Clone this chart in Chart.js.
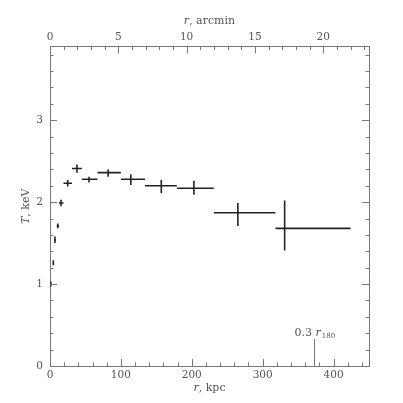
<!DOCTYPE html>
<html>
<head>
<meta charset="utf-8">
<script src="https://cdn.jsdelivr.net/npm/chart.js@4/dist/chart.umd.min.js"></script>
<style>
  body { margin: 0; background: #fff; }
  #wrap { width: 403px; height: 403px; }
</style>
</head>
<body>
<div id="wrap"><canvas id="myChart"></canvas></div>
<script>
// temperature profile, r in kpc, T in keV
const rMid = [1, 4.7, 7, 11, 15.5, 25, 38, 55, 82, 114, 157, 203, 265, 331];
const rLo  = [0, 4, 6, 9.5, 12.5, 19, 31, 45, 67, 100, 134, 179, 231, 318];
const rHi  = [2, 5.5, 8, 12.5, 19, 31, 45, 67, 100, 134, 179, 231, 318, 424];
const temp = [1.00, 1.26, 1.54, 1.71, 1.99, 2.23, 2.41, 2.28, 2.36, 2.28, 2.20, 2.17, 1.87, 1.68];
const tLo  = [0.97, 1.23, 1.50, 1.68, 1.95, 2.19, 2.36, 2.24, 2.31, 2.21, 2.11, 2.09, 1.71, 1.41];
const tHi  = [1.03, 1.29, 1.58, 1.74, 2.03, 2.27, 2.46, 2.31, 2.40, 2.34, 2.27, 2.26, 1.99, 2.02];

const xTicks = [0, 100, 200, 300, 400];
const topTicks = [0, 5, 10, 15, 20];
const yTicks = [0, 1, 2, 3];
const xMax = 450, topMax = 23.35, yMax = 3.9;
const r180mark = 372;   // 0.3 r180 in kpc

const axisColor = '#777';
const textColor = '#555';
const markColor = '#222';
const fontFam = '"DejaVu Serif", serif';

// error bar segments, null between crosses
let hSeg = [], vSeg = [];
for (let i = 0; i < rMid.length; i++) {
  hSeg.push({x: rLo[i], y: temp[i]}, {x: rHi[i], y: temp[i]}, {x: rHi[i], y: null});
  vSeg.push({x: rMid[i], y: tLo[i]}, {x: rMid[i], y: tHi[i]}, {x: rMid[i], y: null});
}

const decor = {
  id: 'decor',
  afterDraw(chart) {
    const {ctx, chartArea: a, scales} = chart;
    ctx.save();
    ctx.strokeStyle = axisColor;
    ctx.lineWidth = 1;
    const line = (x1, y1, x2, y2) => {
      ctx.beginPath(); ctx.moveTo(x1, y1); ctx.lineTo(x2, y2); ctx.stroke();
    };
    // inward ticks
    for (let v = 0; v <= xMax; v += 20) {
      const px = Math.round(scales.x.getPixelForValue(v)) + 0.5;
      const len = v % 100 === 0 ? 7 : 3.5;
      line(px, a.bottom, px, a.bottom - len);
    }
    for (let v = 0; v <= topMax; v += 1) {
      const px = Math.round(scales.x2.getPixelForValue(v)) + 0.5;
      const len = v % 5 === 0 ? 7 : 3.5;
      line(px, a.top, px, a.top + len);
    }
    for (let k = 0; k <= yMax * 5 + 0.01; k++) {
      const v = k / 5;
      const py = Math.round(scales.y.getPixelForValue(v)) + 0.5;
      const len = k % 5 === 0 ? 7 : 3.5;
      line(a.left, py, a.left + len, py);
      line(a.right, py, a.right - len, py);
    }
    // 0.3 r180 marker
    const mx = Math.round(scales.x.getPixelForValue(r180mark)) + 0.5;
    line(mx, a.bottom, mx, scales.y.getPixelForValue(0.33));

    ctx.fillStyle = textColor;
    ctx.textBaseline = 'alphabetic';
    ctx.textAlign = 'left';
    ctx.font = '11px ' + fontFam;
    let tx = mx - 20, ty = scales.y.getPixelForValue(0.37);
    ctx.fillText('0.3 ', tx, ty);
    tx += ctx.measureText('0.3 ').width;
    ctx.font = 'italic 11px ' + fontFam;
    ctx.fillText('r', tx, ty);
    tx += ctx.measureText('r').width + 1;
    ctx.font = '7px ' + fontFam;
    ctx.fillText('180', tx, ty + 2);

    // axis titles with italic symbol
    const title = (sym, rest, cx, cy) => {
      ctx.font = 'italic 11px ' + fontFam;
      const w1 = ctx.measureText(sym).width;
      ctx.font = '11px ' + fontFam;
      const w2 = ctx.measureText(rest).width;
      let x0 = cx - (w1 + w2) / 2;
      ctx.textBaseline = 'middle';
      ctx.font = 'italic 11px ' + fontFam;
      ctx.fillText(sym, x0, cy);
      ctx.font = '11px ' + fontFam;
      ctx.fillText(rest, x0 + w1, cy);
    };
    const midX = (a.left + a.right) / 2;
    title('r', ', arcmin', midX, 21);
    title('r', ', kpc', midX, 388);
    ctx.translate(26, (a.top + a.bottom) / 2);
    ctx.rotate(-Math.PI / 2);
    title('T', ', keV', 0, 0);
    ctx.restore();
  }
};

const segStyle = {
  showLine: true,
  spanGaps: false,
  borderColor: markColor,
  borderWidth: 1.6,
  pointRadius: 0,
  pointHoverRadius: 0,
  fill: false
};

const tickFont = { family: fontFam, size: 10.5 };

new Chart(document.getElementById('myChart'), {
  type: 'scatter',
  data: {
    datasets: [
      Object.assign({ label: 'r error', data: hSeg }, segStyle),
      Object.assign({ label: 'T error', data: vSeg }, segStyle)
    ]
  },
  options: {
    responsive: true,
    maintainAspectRatio: false,
    animation: false,
    layout: { padding: 0 },
    plugins: { legend: { display: false }, tooltip: { enabled: false } },
    scales: {
      x: {
        type: 'linear', position: 'bottom', min: 0, max: xMax,
        grid: { display: false, drawTicks: false },
        border: { display: true, color: axisColor, width: 1 },
        ticks: { color: textColor, font: tickFont, padding: 3, maxRotation: 0 },
        afterBuildTicks: s => { s.ticks = xTicks.map(v => ({ value: v })); },
        afterFit: s => { s.height = 37; }
      },
      x2: {
        type: 'linear', position: 'top', min: 0, max: topMax,
        grid: { display: false, drawTicks: false },
        border: { display: true, color: axisColor, width: 1 },
        ticks: { color: textColor, font: tickFont, padding: 3, maxRotation: 0 },
        afterBuildTicks: s => { s.ticks = topTicks.map(v => ({ value: v })); },
        afterFit: s => { s.height = 46.5; }
      },
      y: {
        type: 'linear', position: 'left', min: 0, max: yMax,
        grid: { display: false, drawTicks: false },
        border: { display: true, color: axisColor, width: 1 },
        ticks: { color: textColor, font: tickFont, padding: 7 },
        afterBuildTicks: s => { s.ticks = yTicks.map(v => ({ value: v })); },
        afterFit: s => { s.width = 50; }
      },
      y2: {
        type: 'linear', position: 'right', min: 0, max: yMax,
        grid: { display: false, drawTicks: false },
        border: { display: true, color: axisColor, width: 1 },
        ticks: { display: false },
        afterFit: s => { s.width = 34; }
      }
    }
  },
  plugins: [decor]
});
</script>
</body>
</html>
